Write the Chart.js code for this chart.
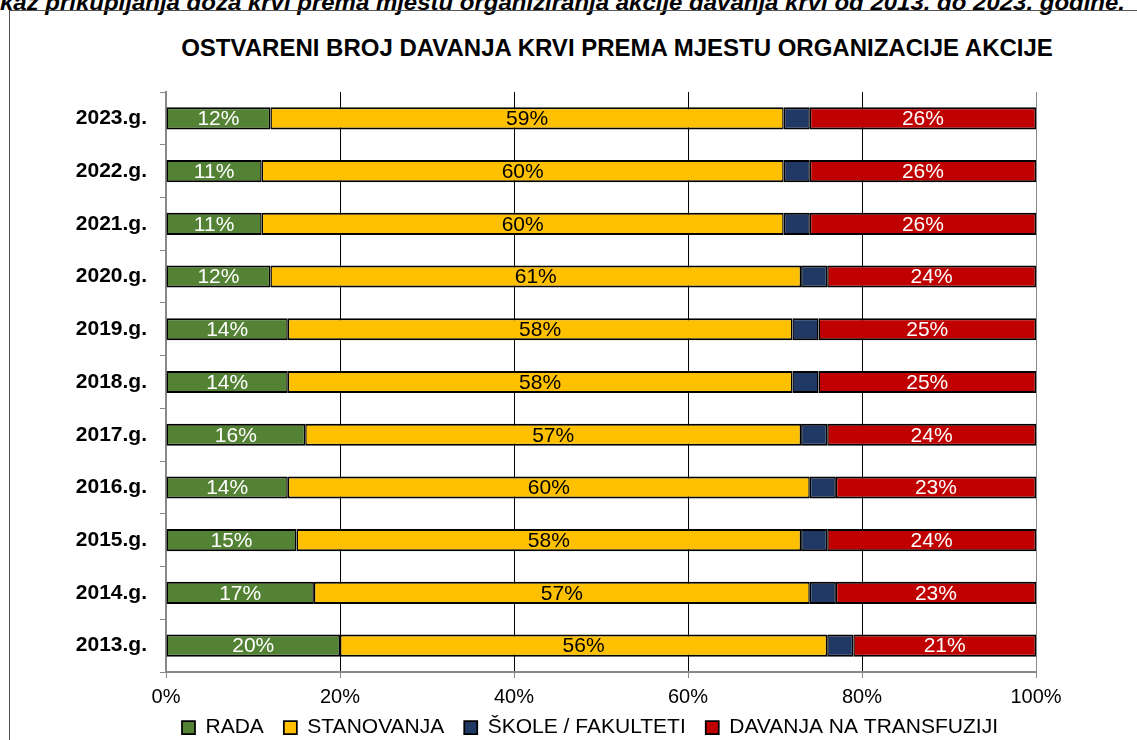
<!DOCTYPE html>
<html>
<head>
<meta charset="utf-8">
<script src="https://cdn.jsdelivr.net/npm/chart.js@4.4.1/dist/chart.umd.min.js"></script>
<style>
  body { margin: 0; background: #fff; overflow: hidden; width: 1137px; height: 740px; position: relative; }
  #cap { position: absolute; left: 0; top: -8px; white-space: nowrap; font: italic bold 22px/22px "Liberation Sans Narrow", "Liberation Sans", Arial, sans-serif; transform-origin: 0 0; color: #000; }
  #frame { position: absolute; left: 9px; top: 10px; width: 1200px; height: 800px; border: 1px solid #555; }
  #title { position: absolute; left: 0; top: 35px; width: 1234px; text-align: center; font: bold 24px/26px "Liberation Sans", Arial, sans-serif; color: #000; }
  #wrap { position: absolute; left: 0; top: 0; width: 1137px; height: 740px; }
</style>
</head>
<body>
<div id="cap"><span id="pre">Pri</span><span id="rest">kaz prikupljanja doza krvi prema mjestu organiziranja akcije davanja krvi od 2013. do 2023. godine.</span></div>
<div id="frame"></div>
<div id="title">OSTVARENI BROJ DAVANJA KRVI PREMA MJESTU ORGANIZACIJE AKCIJE</div>
<div id="wrap"><canvas id="myChart"></canvas></div>
<script>
const years = ['2023.g.', '2022.g.', '2021.g.', '2020.g.', '2019.g.', '2018.g.', '2017.g.', '2016.g.', '2015.g.', '2014.g.', '2013.g.'];
const rada = [12, 11, 11, 12, 14, 14, 16, 14, 15, 17, 20];
const stanovanja = [59, 60, 60, 61, 58, 58, 57, 60, 58, 57, 56];
const skole = [3, 3, 3, 3, 3, 3, 3, 3, 3, 3, 3];
const transfuzija = [26, 26, 26, 24, 25, 25, 24, 23, 24, 23, 21];
const seriesNames = ['RADA', 'STANOVANJA', 'ŠKOLE / FAKULTETI', 'DAVANJA NA TRANSFUZIJI'];
const xTicks = [0, 20, 40, 60, 80, 100];

// fit the cut-off caption at the top
const cap = document.getElementById('cap');
const pre = document.getElementById('pre');
const rest = document.getElementById('rest');
const sc = 1125 / rest.getBoundingClientRect().width;
cap.style.transform = 'translateX(' + (-pre.getBoundingClientRect().width * sc) + 'px) scaleX(' + sc + ')';

const colors = ['#548235', '#FFC000', '#203864', '#C00000'];
const labelColors = ['#fff', '#000', null, '#fff'];
const font = 'Liberation Sans';

const barLabels = {
    id: 'barLabels',
    afterDatasetsDraw(chart) {
        const ctx = chart.ctx;
        ctx.save();
        ctx.font = '21px "' + font + '"';
        ctx.textAlign = 'center';
        ctx.textBaseline = 'middle';
        chart.data.datasets.forEach((ds, i) => {
            if (!labelColors[i]) return;
            ctx.fillStyle = labelColors[i];
            chart.getDatasetMeta(i).data.forEach((bar, j) => {
                ctx.fillText(ds.data[j] + '%', (bar.x + bar.base) / 2, bar.y + 1);
            });
        });
        ctx.restore();
    }
};

// legend: keep wide gaps between items but place the row just under the ticks
const legendFit = {
    id: 'legendFit',
    beforeInit(chart) {
        const fit = chart.legend.fit;
        chart.legend.fit = function () {
            fit.call(this);
            this.height = 24;
        };
    },
    afterLayout(chart) {
        chart.legend.top = 697;
        chart.legend.bottom = 740;
        chart.legend.left = 144;
        chart.legend.right = 1036;
    }
};

const border = { top: 2, bottom: 2, left: 1.5, right: 1.5 };
const data = [rada, stanovanja, skole, transfuzija];

const ctx = document.getElementById('myChart').getContext('2d');
const myChart = new Chart(ctx, {
    type: 'bar',
    data: {
        labels: years,
        datasets: data.map((d, i) => ({
            label: seriesNames[i],
            data: d,
            backgroundColor: colors[i],
            borderColor: '#000',
            borderWidth: border,
            borderSkipped: false,
            barPercentage: 0.42,
            categoryPercentage: 1
        }))
    },
    plugins: [barLabels, legendFit],
    options: {
        indexAxis: 'y',
        responsive: true,
        maintainAspectRatio: false,
        animation: false,
        layout: { padding: { left: 75, right: 101, top: 92, bottom: 0 } },
        scales: {
            x: {
                stacked: true,
                min: 0,
                max: 100,
                afterBuildTicks(scale) { scale.ticks = xTicks.map(v => ({ value: v })); },
                afterFit(scale) { scale.height = 44; },
                ticks: {
                    padding: 7,
                    color: '#000',
                    font: { family: font, size: 20 },
                    callback: v => v + '%'
                },
                grid: {
                    color: c => (c.tick && (c.tick.value === 0 || c.tick.value === 100)) ? '#888' : '#000',
                    tickColor: '#888',
                    tickLength: 6,
                    lineWidth: 1
                },
                border: { color: '#888', width: 2 }
            },
            y: {
                stacked: true,
                afterFit(scale) { scale.width = 91; },
                ticks: {
                    padding: 13,
                    color: '#000',
                    font: { family: font, size: 21, weight: 'bold' }
                },
                grid: {
                    drawOnChartArea: false,
                    color: '#888',
                    tickLength: 6,
                    offset: true
                },
                border: { color: '#888', width: 2 }
            }
        },
        plugins: {
            legend: {
                position: 'bottom',
                align: 'center',
                labels: {
                    color: '#000',
                    font: { family: font, size: 21 },
                    boxWidth: 13,
                    boxHeight: 13,
                    padding: 20
                }
            },
            tooltip: { enabled: false }
        }
    }
});
</script>
</body>
</html>
